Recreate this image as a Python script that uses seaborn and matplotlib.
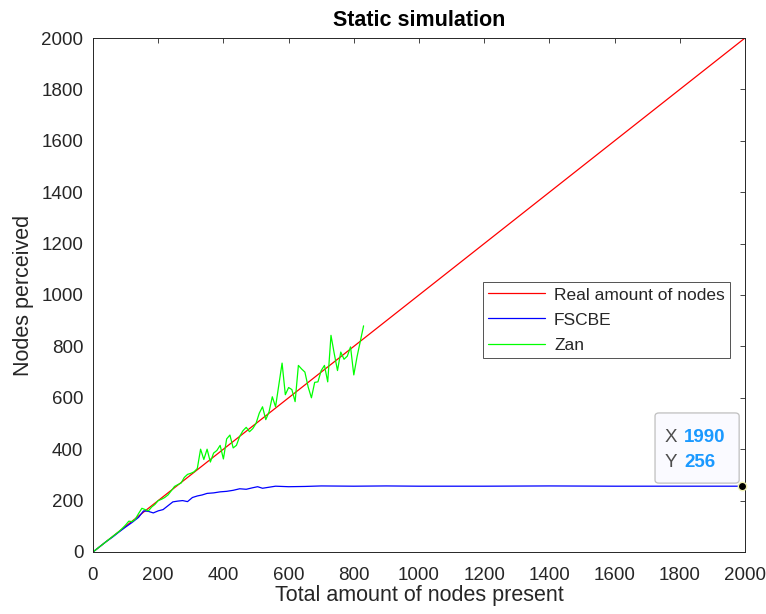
import numpy as np
import pandas as pd
import seaborn as sns
import matplotlib.pyplot as plt
from matplotlib.patches import FancyBboxPatch

# data
real_x = [0, 2000]
real_y = [0, 2000]

fscbe_x = [0, 20, 40, 60, 80, 100, 120, 140, 155, 170, 185, 200, 215, 230, 245, 260, 275,
           290, 305, 320, 335, 350, 370, 390, 410, 430, 450, 470, 490, 505, 520, 540,
           560, 580, 600, 650, 700, 800, 900, 1000, 1200, 1400, 1600, 1800, 1990]
fscbe_y = [0, 20, 40, 58, 78, 97, 115, 135, 160, 158, 152, 160, 165, 180, 195, 198, 200,
           196, 212, 218, 222, 228, 230, 234, 236, 240, 246, 244, 250, 254, 248, 252,
           256, 255, 254, 255, 257, 256, 257, 256, 256, 257, 256, 256, 256]

zan_x = list(range(0, 840, 10))
zan_y = [0, 10, 20, 30, 40, 50, 60, 70, 80, 92, 105, 120, 118, 128, 150, 170, 165, 160,
         175, 185, 200, 205, 212, 222, 238, 255, 262, 268, 290, 302, 306, 312, 325, 400,
         360, 400, 350, 385, 395, 415, 362, 440, 455, 405, 415, 450, 472, 485, 468, 480,
         500, 540, 565, 515, 545, 604, 565, 650, 735, 612, 640, 632, 585, 726, 712, 700,
         642, 600, 660, 662, 706, 726, 662, 843, 772, 706, 778, 750, 762, 798, 689, 760,
         820, 880]

tip_x, tip_y = 1990, 256

real = pd.DataFrame({'x': real_x, 'y': real_y})
fscbe = pd.DataFrame({'x': fscbe_x, 'y': fscbe_y})
zan = pd.DataFrame({'x': zan_x, 'y': zan_y})

sns.set_style('white')
plt.rcParams['font.family'] = ['Liberation Sans', 'DejaVu Sans']
grey = (0.15, 0.15, 0.15)

fig = plt.figure(figsize=(7.66, 6.14), dpi=100)
ax = fig.add_axes([0.1214, 0.1010, 0.8512, 0.8371])

sns.lineplot(data=real, x='x', y='y', color=(1, 0, 0), lw=0.9, label='Real amount of nodes', ax=ax)
sns.lineplot(data=fscbe, x='x', y='y', color=(0, 0, 1), lw=0.9, label='FSCBE', ax=ax)
sns.lineplot(data=zan, x='x', y='y', color=(0, 1, 0), lw=0.9, label='Zan', ax=ax)

ax.set_xlim(0, 2000)
ax.set_ylim(0, 2000)
ax.set_xticks(range(0, 2001, 200))
ax.set_yticks(range(0, 2001, 200))
ax.tick_params(direction='in', length=3.6, width=0.6, colors=grey, labelcolor=grey,
               labelsize=13.5, top=True, right=True)
ax.tick_params(axis='x', pad=10.5)
ax.tick_params(axis='y', pad=7)
for s in ax.spines.values():
    s.set_color(grey)
    s.set_linewidth(0.7)

ax.set_title('Static simulation', fontsize=15.5, fontweight='bold', color='black', pad=9)
ax.set_xlabel('Total amount of nodes present', fontsize=15.5, color=grey, labelpad=1)
ax.set_ylabel('Nodes perceived', fontsize=15.5, color=grey, labelpad=5)

leg = ax.legend(loc='upper left', bbox_to_anchor=(0.598, 0.525), fontsize=12.5,
                frameon=True, fancybox=False, edgecolor=grey, handlelength=3.3,
                borderpad=0.3, labelspacing=0.57, handletextpad=0.5, borderaxespad=0)
leg.get_frame().set_linewidth(0.7)
for t in leg.get_texts():
    t.set_color(grey)

# data tip
box = FancyBboxPatch((1724, 268), 258, 273, boxstyle='round,pad=0,rounding_size=12',
                     facecolor=(0.98, 0.98, 1.0), edgecolor=(0.75, 0.75, 0.75),
                     lw=0.9, zorder=5)
ax.add_patch(box)
ax.text(1753, 447, 'X', fontsize=13.5, color=(0.3, 0.3, 0.3), va='center', zorder=6)
ax.text(1814, 447, str(tip_x), fontsize=13.5, color=(0.1, 0.6, 1.0), fontweight='bold',
        va='center', zorder=6)
ax.text(1753, 350, 'Y', fontsize=13.5, color=(0.3, 0.3, 0.3), va='center', zorder=6)
ax.text(1814, 350, str(tip_y), fontsize=13.5, color=(0.1, 0.6, 1.0), fontweight='bold',
        va='center', zorder=6)
ax.plot([tip_x], [tip_y], 'o', ms=6, color='black', mec=(0.95, 0.95, 0.7), mew=1,
        zorder=7, clip_on=False)

fig.savefig('out.png', dpi=100)
